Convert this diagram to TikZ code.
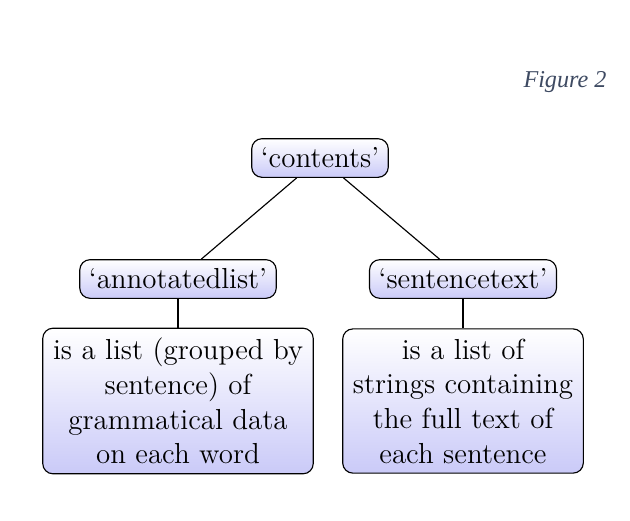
\documentclass[tikz,border=0pt]{standalone}
\usepackage{fontspec}
\usepackage{xcolor}
\usepackage{tikz}
\newfontfamily\capfont{Liberation Serif}
\definecolor{capcol}{HTML}{3E4A62}
\definecolor{fade}{HTML}{CACAF8}
\tikzset{
  key/.style={draw, line width=0.5pt, rounded corners=4.5pt, top color=white, bottom color=fade,
    font=\fontsize{12.7}{15.2}\selectfont, inner xsep=4pt, inner ysep=4pt},
  desc/.style={key, align=center, inner xsep=4.5pt, inner ysep=4.3pt},
  link/.style={draw, line width=0.5pt},
  figcap/.style={text=capcol, font=\fontsize{10.6}{12}\capfont\itshape},
}

\begin{document}
\begin{tikzpicture}[x=0.4386pt, y=-0.4386pt]
  \useasboundingbox (0,0) rectangle (630,520);

  \node[figcap] (fig) at (565,82) {Figure 2};

  \node[key] (contents) at (320,158) {`contents'};
  \node[key] (annot) at (178,279) {`annotatedlist'};
  \node[key] (sent) at (463,279) {`sentencetext'};

  \node[desc] (annotdesc) at (178,401) {is a list (grouped by\\ sentence) of\\ grammatical data\\ on each word};
  \node[desc] (sentdesc) at (463,401) {is a list of\\ strings containing\\ the full text of\\ each sentence};

  \draw[link] (contents) -- (annot);
  \draw[link] (contents) -- (sent);
  \draw[link] (annot) -- (annotdesc);
  \draw[link] (sent) -- (sentdesc);
\end{tikzpicture}
\end{document}
